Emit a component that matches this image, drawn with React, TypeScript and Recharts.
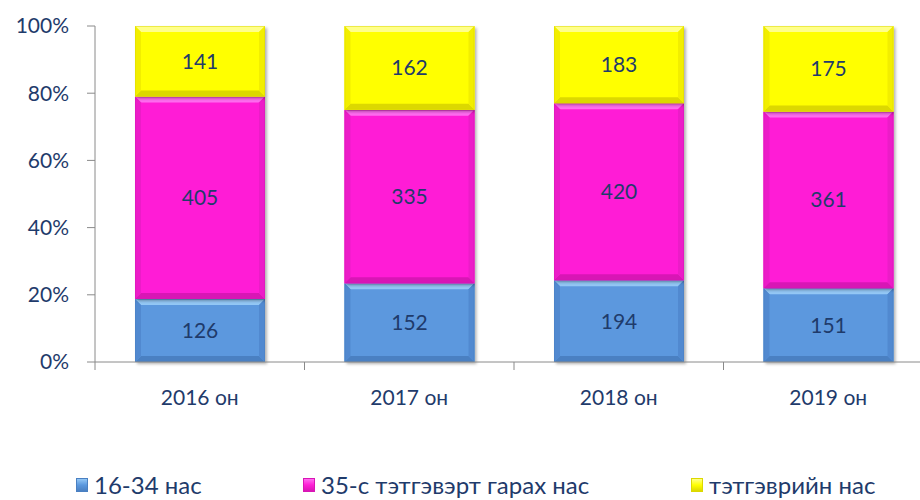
import React from 'react';
import { BarChart, Bar, XAxis, YAxis, Legend, LabelList } from 'recharts';

const years = ['2016 он', '2017 он', '2018 он', '2019 он'];
const youth = [126, 152, 194, 151];
const early = [405, 335, 420, 361];
const pension = [141, 162, 183, 175];
const yTicks = [0, 0.2, 0.4, 0.6, 0.8, 1];
const seriesNames = ['16-34 нас', '35-с тэтгэвэрт гарах нас', 'тэтгэврийн нас'];

const data = years.map((y, i) => ({ year: y, youth: youth[i], early: early[i], pension: pension[i] }));

const TEXT = '#1f3b6b';
const AXIS = '#8a8a8a';
const FONT = 'Lato, "Noto Sans", sans-serif';

const CHART_W = 935;
const MARGIN = { top: 26, right: 2, left: 0, bottom: 0 };
const Y_W = 95;
const BAND = (CHART_W - MARGIN.left - MARGIN.right - Y_W) / years.length;

const palette: Record<string, { base: string; light: string; dark: string; side: string }> = {
  youth: { base: '#5b98de', light: '#93c7f5', dark: '#4a80c2', side: '#5189d0' },
  early: { base: '#ff1fd6', light: '#ff6cf0', dark: '#d816b5', side: '#ec1cc8' },
  pension: { base: '#ffff00', light: '#ffff8a', dark: '#dcd800', side: '#f2ee00' },
};

const BevelBar = (props: any) => {
  const { x, y, width: w, height: h, dataKeyName } = props;
  if (!h || h <= 0) return null;
  const c = palette[dataKeyName];
  const b = Math.min(6, h / 2);
  return (
    <g>
      <defs>
        <filter id="barShadow" x="-10%" y="-10%" width="130%" height="130%">
          <feDropShadow dx="2" dy="2" stdDeviation="1.5" floodColor="#000" floodOpacity="0.3" />
        </filter>
      </defs>
      <rect x={x} y={y} width={w} height={h} fill={c.base} filter="url(#barShadow)" />
      <polygon points={`${x},${y} ${x + w},${y} ${x + w - b},${y + b} ${x + b},${y + b}`} fill={c.light} />
      <polygon points={`${x},${y + h} ${x + w},${y + h} ${x + w - b},${y + h - b} ${x + b},${y + h - b}`} fill={c.dark} />
      <polygon points={`${x},${y} ${x + b},${y + b} ${x + b},${y + h - b} ${x},${y + h}`} fill={c.side} />
      <polygon points={`${x + w},${y} ${x + w - b},${y + b} ${x + w - b},${y + h - b} ${x + w},${y + h}`} fill={c.side} />
      <rect x={x + 0.5} y={y + 0.5} width={w - 1} height={h - 1} fill="none" stroke={c.dark} strokeOpacity={0.5} />
    </g>
  );
};

const XTick = (props: any) => {
  const { x, y, payload, index } = props;
  const axisY = y - 28;
  return (
    <g>
      <line x1={x - BAND / 2} y1={axisY} x2={x - BAND / 2} y2={axisY + 8} stroke={AXIS} />
      {index === years.length - 1 && (
        <line x1={x + BAND / 2} y1={axisY} x2={x + BAND / 2} y2={axisY + 8} stroke={AXIS} />
      )}
      <text x={x} y={y} dy="0.71em" textAnchor="middle" fill={TEXT} fontSize={21} fontFamily={FONT}>
        {payload.value}
      </text>
    </g>
  );
};

const legendKeys = ['youth', 'early', 'pension'];
const legendLeft = [76, 303, 691];

const LegendContent = () => (
  <div style={{ position: 'relative', width: 920, height: 28 }}>
    {seriesNames.map((name, i) => {
      const c = palette[legendKeys[i]];
      return (
        <div
          key={name}
          style={{ position: 'absolute', left: legendLeft[i], top: 0, display: 'flex', alignItems: 'center', whiteSpace: 'nowrap' }}
        >
          <span
            style={{
              display: 'inline-block',
              width: 12,
              height: 14,
              marginRight: 6,
              background: `linear-gradient(${c.light}, ${c.base} 50%, ${c.dark})`,
              border: `1px solid ${c.dark}`,
              boxSizing: 'border-box',
            }}
          />
          <span style={{ fontFamily: FONT, fontSize: 24, color: TEXT, lineHeight: '28px' }}>{name}</span>
        </div>
      );
    })}
  </div>
);

const pct = (v: number) => `${Math.round(v * 100)}%`;

export default function App() {
  return (
    <div style={{ position: 'absolute', left: 0, top: 0, width: 920, height: 500, overflow: 'hidden', background: '#fff' }}>
      <BarChart width={CHART_W} height={500} data={data} stackOffset="expand" margin={MARGIN} barSize={130}>
        <XAxis
          dataKey="year"
          height={138}
          axisLine={{ stroke: AXIS }}
          tickLine={false}
          tickSize={8}
          tickMargin={20}
          tick={<XTick />}
          interval={0}
        />
        <YAxis
          width={Y_W}
          domain={[0, 1]}
          ticks={yTicks}
          tickFormatter={pct}
          axisLine={{ stroke: AXIS }}
          tickLine={{ stroke: AXIS }}
          tickSize={8}
          tickMargin={18}
          tick={{ fill: TEXT, fontSize: 21, fontFamily: FONT }}
        />
        <Legend
          verticalAlign="middle"
          layout="horizontal"
          wrapperStyle={{ top: 471, left: 0, width: 920, height: 28 }}
          content={<LegendContent />}
        />
        <Bar dataKey="youth" stackId="a" isAnimationActive={false} shape={(p: any) => <BevelBar {...p} dataKeyName="youth" />}>
          <LabelList dataKey="youth" position="center" fill={TEXT} fontSize={21} fontFamily={FONT} />
        </Bar>
        <Bar dataKey="early" stackId="a" isAnimationActive={false} shape={(p: any) => <BevelBar {...p} dataKeyName="early" />}>
          <LabelList dataKey="early" position="center" fill={TEXT} fontSize={21} fontFamily={FONT} />
        </Bar>
        <Bar dataKey="pension" stackId="a" isAnimationActive={false} shape={(p: any) => <BevelBar {...p} dataKeyName="pension" />}>
          <LabelList dataKey="pension" position="center" fill={TEXT} fontSize={21} fontFamily={FONT} />
        </Bar>
      </BarChart>
    </div>
  );
}
